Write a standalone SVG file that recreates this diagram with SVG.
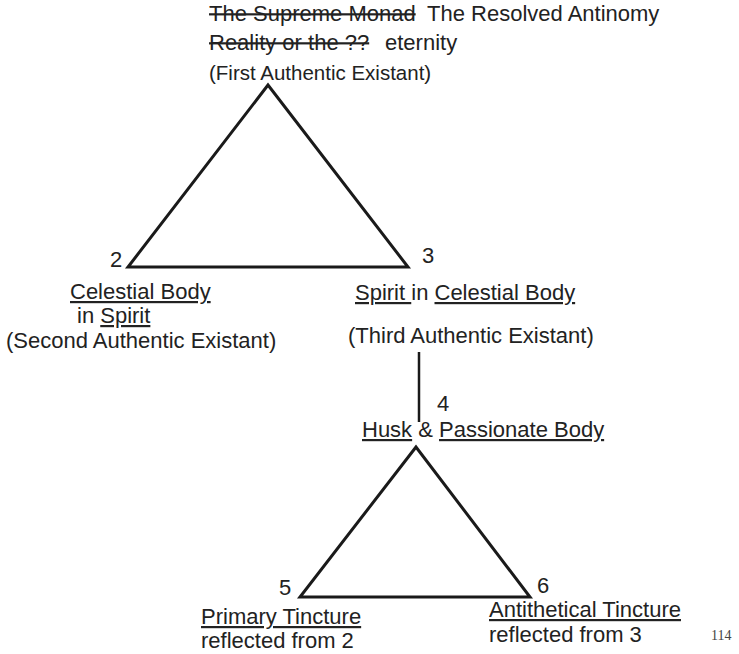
<svg xmlns="http://www.w3.org/2000/svg" width="739" height="654" viewBox="0 0 739 654">
<style>
.t{font-family:"Liberation Sans",Arial,sans-serif;font-size:22px;fill:#222}
.u{text-decoration:underline}
.s{text-decoration:line-through}
.tri{fill:none;stroke:#1a1a1a;stroke-width:3;stroke-linejoin:miter}
.ln{stroke:#1a1a1a;stroke-width:2.5;fill:none}
</style>
<rect width="739" height="654" fill="#fff"/>
<g id="triangle-upper"><polygon class="tri" points="268,85 128,267 408,267"/></g>
<g id="triangle-lower"><polygon class="tri" points="416,447 300,597 530,597"/></g>
<g id="connectors"><line class="ln" x1="419" y1="352" x2="419" y2="422"/></g>
<g id="node1">
<text class="t s" x="209" y="21">The Supreme Monad</text>
<text class="t" x="427" y="21">The Resolved Antinomy</text>
<text class="t s" x="209" y="50">Reality or the ??</text>
<text class="t" x="385" y="50">eternity</text>
<text class="t" x="209" y="80" style="font-size:20.5px">(First Authentic Existant)</text>
</g>
<g id="node2">
<text class="t" x="110" y="267">2</text>
<text class="t u" x="70" y="299">Celestial Body</text>
<text class="t" x="77" y="323">in <tspan class="u">Spirit</tspan></text>
<text class="t" x="6" y="348">(Second Authentic Existant)</text>
</g>
<g id="node3">
<text class="t" x="422" y="263">3</text>
<text class="t" x="355" y="300"><tspan class="u">Spirit </tspan>in <tspan class="u">Celestial Body</tspan></text>
<text class="t" x="348" y="343">(Third Authentic Existant)</text>
</g>
<g id="node4">
<text class="t" x="437" y="411">4</text>
<text class="t" x="362" y="437"><tspan class="u">Husk</tspan> &amp; <tspan class="u">Passionate Body</tspan></text>
</g>
<g id="node5">
<text class="t" x="279" y="595">5</text>
<text class="t u" x="201" y="624">Primary Tincture</text>
<text class="t" x="201" y="648">reflected from 2</text>
</g>
<g id="node6">
<text class="t" x="537" y="593">6</text>
<text class="t u" x="489" y="617">Antithetical Tincture</text>
<text class="t" x="489" y="642">reflected from 3</text>
</g>
<text x="711" y="640" style="font-family:'Liberation Serif','Times New Roman',serif;font-size:14px;fill:#444">114</text>
</svg>
